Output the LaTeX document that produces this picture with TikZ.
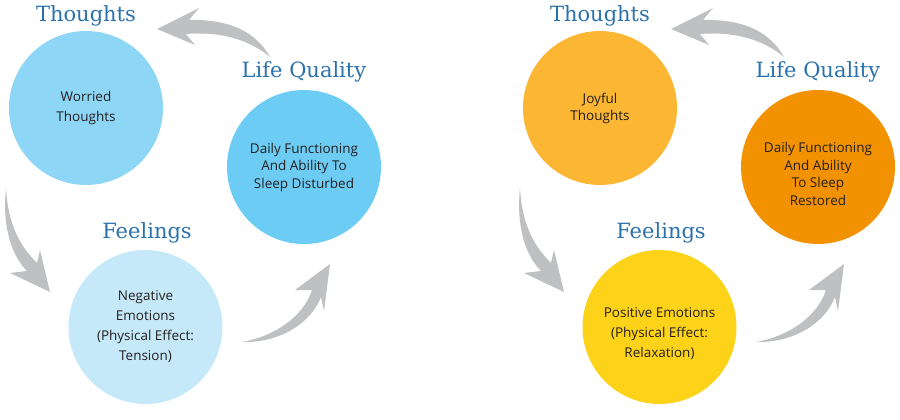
\documentclass[tikz,border=0pt]{standalone}
\usepackage{fontspec}
\newfontfamily\bodyfont{Open Sans}
\newfontfamily\headfont{DejaVu Serif}
\usetikzlibrary{positioning}

\definecolor{headblue}{HTML}{2A72AD}
\definecolor{textdark}{HTML}{231F20}
\definecolor{arrowgrey}{HTML}{BEC0C2}
\definecolor{worried}{HTML}{8ED6F6}
\definecolor{lqsad}{HTML}{6DCCF4}
\definecolor{negative}{HTML}{C6E9F9}
\definecolor{joyful}{HTML}{FBB733}
\definecolor{lqhappy}{HTML}{F39200}
\definecolor{positive}{HTML}{FDD31A}

\tikzset{
	bubbletext/.style = {inner sep = 0pt, align = center,
		text = textdark, font = \bodyfont\fontsize{13.5}{#1}\selectfont},
	bubble/.style = {circle, minimum size = 154pt, bubbletext = #1},
	heading/.style = {inner sep = 0pt, text = headblue, font = \headfont\fontsize{21}{24}\selectfont},
	pics/toparrow/.style = {code = {
		\fill[arrowgrey] (270,57) .. controls (256,32) and (230,19) .. (189,20) -- (199,8) -- (157,29)
			-- (195,45) -- (186,34) .. controls (225,31) and (252,42) .. (270,57) -- cycle;
	}},
	pics/leftarrow/.style = {code = {
		\fill[arrowgrey] (6,188) .. controls (2,228) and (12,256) .. (27,271) -- (10,273) -- (50,292)
			-- (40,250) -- (37,263) .. controls (21,247) and (8,226) .. (6,188) -- cycle;
	}},
	pics/rightarrow/.style = {code = {
		\fill[arrowgrey] (242,342) .. controls (272,337) and (303,318) .. (312,290) -- (295,290) -- (330,264)
			-- (324,311) -- (321,297) .. controls (311,323) and (280,343) .. (242,342) -- cycle;
	}}
}

\begin{document}
\begin{tikzpicture}[x = 1pt, y = -1pt]
	\useasboundingbox (0,0) rectangle (900,420);

	% worried cycle
	\node[bubble = 20, fill = worried] (WT) at (86,108) {Worried\\Thoughts};
	\node[bubble = 17.5, fill = lqsad] (LQS) at (304,167) {Daily Functioning\\And Ability To\\Sleep Disturbed};
	\node[bubble = 20, fill = negative] (NE) at (145.5,327) {Negative\\Emotions\\(Physical Effect:\\Tension)};
	\node[heading, above = 9pt of WT, anchor = base] (WTh) {Thoughts};
	\node[heading, above = 12pt of LQS, anchor = base] (LQSh) {Life Quality};
	\node[heading, above = 11pt of NE, anchor = base, xshift = 1.5pt] (NEh) {Feelings};
	\pic {toparrow};
	\pic {leftarrow};
	\pic {rightarrow};

	% joyful cycle
	\begin{scope}[xshift = 514pt]
		\node[bubble = 17, fill = joyful] (JT) at (86,108) {Joyful\\Thoughts};
		\node[bubble = 17.7, fill = lqhappy] (LQH) at (304,167) {};
		\node[bubbletext = 17.7, yshift = -7pt] (LQHt) at (LQH) {Daily Functioning\\And Ability\\To Sleep\\Restored};
		\node[bubble = 20, fill = positive] (PE) at (145.5,327) {};
		\node[bubbletext = 20, yshift = -7pt] (PEt) at (PE) {Positive Emotions\\(Physical Effect:\\Relaxation)};
		\node[heading, above = 9pt of JT, anchor = base] (JTh) {Thoughts};
		\node[heading, above = 12pt of LQH, anchor = base] (LQHh) {Life Quality};
		\node[heading, above = 11pt of PE, anchor = base, xshift = 1.5pt] (PEh) {Feelings};
		\pic {toparrow};
		\pic {leftarrow};
		\pic {rightarrow};
	\end{scope}
\end{tikzpicture}
\end{document}
